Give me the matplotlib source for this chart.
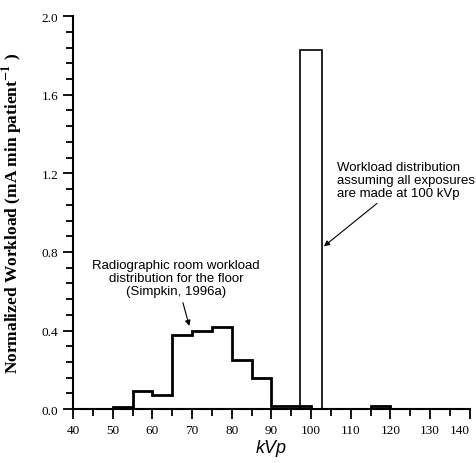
import matplotlib.pyplot as plt
import numpy as np

plt.rcParams["mathtext.fontset"] = "stix"

# 5 kVp bins, radiographic room workload distribution
bin_edges = [40, 45, 50, 55, 60, 65, 70, 75, 80, 85, 90, 95, 100, 105, 110, 115, 120, 125]
workload = [0.0, 0.0, 0.01, 0.09, 0.07, 0.38, 0.40, 0.42, 0.25, 0.16, 0.015, 0.015,
            0.0, 0.0, 0.003, 0.015, 0.0]

# single 100 kVp bar
single_kvp = [100]
single_workload = [1.83]

fig = plt.figure(figsize=(4.77, 4.64), dpi=100)
ax = fig.add_axes([0.153, 0.116, 0.832, 0.847])

ax.stairs(workload, bin_edges, color="black", linewidth=2.0, baseline=None)
ax.bar(single_kvp, single_workload, width=5.4, fill=False, edgecolor="black", linewidth=1.2)

ax.set_xlim(40, 140)
ax.set_ylim(0, 2.0)
ax.set_xticks(np.arange(40, 141, 10))
ax.set_xticks(np.arange(45, 140, 10), minor=True)
ax.set_yticks(np.arange(0, 2.01, 0.4))
ax.set_yticks(np.arange(0, 2.01, 0.08), minor=True)
ax.set_yticklabels([f"{v:.1f}" for v in np.arange(0, 2.01, 0.4)])

for side in ["top", "right"]:
    ax.spines[side].set_visible(False)
for side in ["left", "bottom"]:
    ax.spines[side].set_linewidth(1.5)

ax.tick_params(which="major", length=7, width=1.3, labelsize=9.5)
ax.tick_params(which="minor", length=5, width=1.3)
for lbl in ax.get_xticklabels() + ax.get_yticklabels():
    lbl.set_family("Liberation Serif")
ax.get_xticklabels()[-1].set_horizontalalignment("right")

ax.set_xlabel("kVp", fontsize=13, style="italic", family="Liberation Sans", labelpad=2)
ax.set_ylabel("Normalized Workload (mA min patient$^{\\mathbf{-1}}$ )", fontsize=12.5,
              fontweight="bold", family="Liberation Serif", labelpad=12)

arrow = dict(arrowstyle="-|>", color="black", linewidth=0.8, mutation_scale=8,
             connectionstyle="arc3,rad=0")
ax.annotate("Radiographic room workload\ndistribution for the floor\n(Simpkin, 1996a)",
            xy=(69.5, 0.41), xytext=(66, 0.57), ha="center", va="bottom",
            fontsize=9.5, family="Liberation Sans", linespacing=1.1, arrowprops=arrow)
ax.annotate("Workload distribution\nassuming all exposures\nare made at 100 kVp",
            xy=(102.7, 0.82), xytext=(106.5, 1.07), ha="left", va="bottom",
            fontsize=9.5, family="Liberation Sans", linespacing=1.1, arrowprops=arrow)

fig.savefig("out.png", dpi=100)
